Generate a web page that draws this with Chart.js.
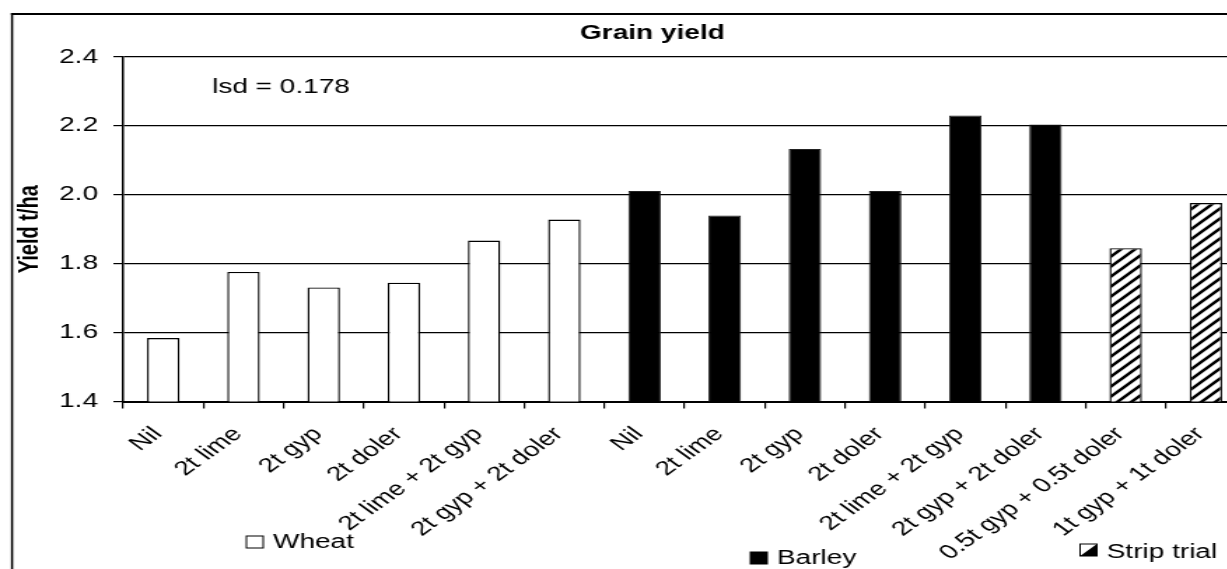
<!DOCTYPE html>
<html>
<head>
<meta charset="utf-8">
<script src="https://cdn.jsdelivr.net/npm/chart.js@4.4.0/dist/chart.umd.min.js"></script>
<style>
  html, body { margin: 0; padding: 0; background: #fff; overflow: hidden; }
  /* the original picture is stretched sideways, so the whole chart is drawn narrow and scaled */
  #wrap { position: absolute; left: 0; top: 0; width: 900px; height: 569px; transform: scaleX(1.4); transform-origin: 0 0; }
</style>
</head>
<body>
<div id="wrap"><canvas id="grainYieldChart" width="900" height="569"></canvas></div>
<script>
const categories = ["Nil", "2t lime", "2t gyp", "2t doler", "2t lime + 2t gyp", "2t gyp + 2t doler",
  "Nil", "2t lime", "2t gyp", "2t doler", "2t lime + 2t gyp", "2t gyp + 2t doler",
  "0.5t gyp + 0.5t doler", "1t gyp + 1t doler"];
const wheat = [1.584, 1.776, 1.731, 1.745, 1.867, 1.928, null, null, null, null, null, null, null, null];
const barley = [null, null, null, null, null, null, 2.011, 1.940, 2.133, 2.011, 2.230, 2.204, null, null];
const stripTrial = [null, null, null, null, null, null, null, null, null, null, null, null, 1.845, 1.976];
const yTicks = [1.4, 1.6, 1.8, 2.0, 2.2, 2.4];
const lsdText = "lsd = 0.178";

const FONT = "'Liberation Sans', Arial, sans-serif";
Chart.defaults.font.family = FONT;
Chart.defaults.color = "#000";

// hatch for the strip trial bars
function makeHatch() {
  const c = document.createElement("canvas");
  c.width = 10;
  c.height = 10;
  const g = c.getContext("2d");
  g.fillStyle = "#fff";
  g.fillRect(0, 0, 10, 10);
  g.strokeStyle = "#000";
  g.lineWidth = 2.6;
  g.beginPath();
  g.moveTo(-2, 12); g.lineTo(12, -2);
  g.moveTo(-7, 7); g.lineTo(7, -7);
  g.moveTo(3, 17); g.lineTo(17, 3);
  g.stroke();
  return g.createPattern(c, "repeat");
}
const hatch = makeHatch();

const extras = {
  id: "extras",
  beforeDraw(chart) {
    const ctx = chart.ctx;
    ctx.save();
    ctx.fillStyle = "#fff";
    ctx.fillRect(0, 0, chart.width, chart.height);
    ctx.strokeStyle = "#000";
    ctx.lineWidth = 1.5;
    ctx.beginPath();
    ctx.moveTo(8.6, chart.height + 5);
    ctx.lineTo(8.6, 13);
    ctx.stroke();
    ctx.lineWidth = 2;
    ctx.beginPath();
    ctx.moveTo(7.8, 14);
    ctx.lineTo(chart.width + 5, 14);
    ctx.stroke();
    ctx.restore();
  },
  afterDraw(chart) {
    const ctx = chart.ctx;
    ctx.save();
    ctx.fillStyle = "#000";
    ctx.textBaseline = "alphabetic";

    ctx.font = "bold 20px " + FONT;
    ctx.textAlign = "center";
    ctx.fillText("Grain yield", 466, 39);

    ctx.font = "20px " + FONT;
    ctx.textAlign = "left";
    ctx.fillText(lsdText, 151.5, 93);

    // legend entries sit in three separate places
    const items = [
      { ds: chart.data.datasets[0], x: 176, y: 536, base: 548 },
      { ds: chart.data.datasets[1], x: 536, y: 552, base: 564 },
      { ds: chart.data.datasets[2], x: 771.5, y: 544, base: 558 }
    ];
    items.forEach((it) => {
      ctx.lineWidth = 1;
      ctx.strokeStyle = "#000";
      if (it.ds.backgroundColor === hatch) {
        ctx.fillStyle = "#fff";
        ctx.fillRect(it.x, it.y, 12, 12);
        ctx.fillStyle = "#000";
        ctx.beginPath();
        ctx.moveTo(it.x + 12, it.y);
        ctx.lineTo(it.x + 12, it.y + 12);
        ctx.lineTo(it.x, it.y + 12);
        ctx.closePath();
        ctx.fill();
      } else {
        ctx.fillStyle = it.ds.backgroundColor;
        ctx.fillRect(it.x, it.y, 12, 12);
      }
      ctx.strokeRect(it.x, it.y, 12, 12);
      ctx.fillStyle = "#000";
      ctx.fillText(it.ds.label, it.x + 19, it.base);
    });
    ctx.restore();
  }
};

new Chart(document.getElementById("grainYieldChart"), {
  type: "bar",
  data: {
    labels: categories,
    datasets: [
      { label: "Wheat", data: wheat, backgroundColor: "#fff", borderColor: "#000", borderWidth: 1.4 },
      { label: "Barley", data: barley, backgroundColor: "#000", borderColor: "#222", borderWidth: 1 },
      { label: "Strip trial", data: stripTrial, backgroundColor: hatch, borderColor: "#000", borderWidth: 1.4 }
    ]
  },
  options: {
    responsive: false,
    animation: false,
    devicePixelRatio: 1,
    layout: { padding: { left: 0, top: 57, right: 10, bottom: 0 } },
    datasets: {
      bar: { grouped: false, categoryPercentage: 1, barPercentage: 0.405, borderSkipped: false }
    },
    plugins: {
      legend: { display: false },
      title: { display: false },
      tooltip: { enabled: false }
    },
    scales: {
      x: {
        offset: true,
        grid: { offset: true, drawOnChartArea: false, drawTicks: true, tickLength: 7, color: "#000", lineWidth: 1.2 },
        border: { display: true, color: "#000", width: 2 },
        ticks: { autoSkip: false, minRotation: 45, maxRotation: 45, padding: 14, labelOffset: -4, font: { size: 20 } },
        afterFit: (scale) => { scale.height = 167.5; }
      },
      y: {
        min: 1.4,
        max: 2.4,
        afterBuildTicks: (scale) => { scale.ticks = yTicks.map((v) => ({ value: v })); },
        grid: { color: "#000", lineWidth: 1.2, tickLength: 7 },
        border: { display: true, color: "#000", width: 1.5 },
        ticks: { padding: 11, font: { size: 20 }, callback: (v) => Number(v).toFixed(1) },
        title: { display: true, text: "Yield t/ha", font: { size: 20, weight: "bold" }, padding: { top: 9, bottom: 0 } },
        afterFit: (scale) => { scale.width = 88; }
      }
    }
  },
  plugins: [extras]
});
</script>
</body>
</html>
